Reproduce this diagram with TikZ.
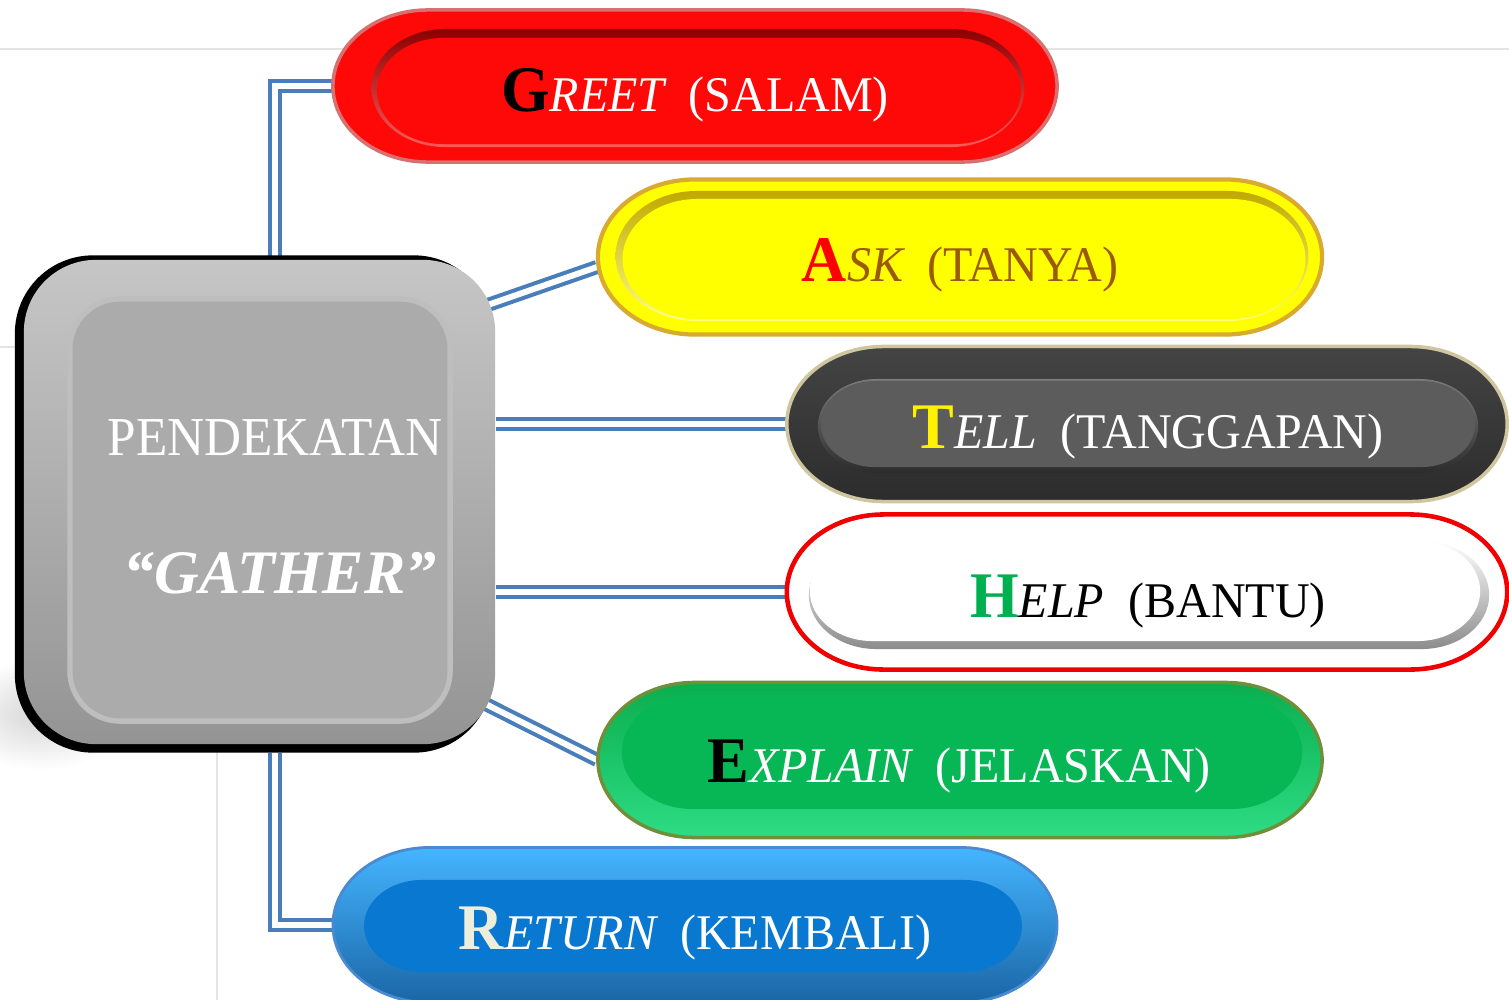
\documentclass[tikz,border=0pt]{standalone}
\usepackage{fontspec}
\setmainfont{Liberation Serif}
\usetikzlibrary{shapes.misc,calc}
\pgfdeclarelayer{background}
\pgfsetlayers{background,main}

\definecolor{linkblue}{HTML}{4A7EBB}
\definecolor{gridgray}{HTML}{E4E4E4}
% red pill
\definecolor{greetred}{HTML}{FF0808}
\definecolor{greetdark}{HTML}{8A0000}
\definecolor{greetlight}{HTML}{FF5A5A}
\definecolor{greetrim}{HTML}{D87070}
% yellow pill
\definecolor{askyel}{HTML}{FFFF00}
\definecolor{askdark}{HTML}{C0A800}
\definecolor{asklight}{HTML}{FFFF80}
\definecolor{askrim}{HTML}{D8AA30}
\definecolor{askbrown}{HTML}{9C5A08}
% dark grey pill
\definecolor{tellband}{HTML}{444444}
\definecolor{tellbandlow}{HTML}{2C2C2C}
\definecolor{tellface}{HTML}{5C5C5C}
\definecolor{telllight}{HTML}{7A7A7A}
\definecolor{tellrim}{HTML}{CFC6A0}
% white pill
\definecolor{helpred}{HTML}{F00000}
\definecolor{helpshadow}{HTML}{8C8C8C}
\definecolor{helpgreen}{HTML}{00B050}
% green pill
\definecolor{expgreen}{HTML}{07B755}
\definecolor{exptop}{HTML}{0AAE4E}
\definecolor{explow}{HTML}{2EDC84}
\definecolor{exprim}{HTML}{6F8F3A}
% blue pill
\definecolor{rettop}{HTML}{45B5FF}
\definecolor{retlow}{HTML}{1A66A6}
\definecolor{retface}{HTML}{0878D0}
\definecolor{retrim}{HTML}{4A8AD0}
\definecolor{retcream}{HTML}{EEEEDC}
% centre box
\definecolor{boxface}{HTML}{ABABAB}
\definecolor{boxtop}{HTML}{C6C6C6}
\definecolor{boxlow}{HTML}{949494}
\definecolor{boxedge}{HTML}{BEBEBE}

% label pieces: bold initial, italic capitals, upright gloss
\newcommand\initl[2]{{\fontsize{18.5}{20}\selectfont\bfseries\color{#1}#2}}
\newcommand\tailw[2]{{\fontsize{14.2}{16}\selectfont\itshape\color{#1}#2}}
\newcommand\gloss[2]{{\fontsize{14.2}{16}\selectfont\color{#1}#2}}
\newcommand\gapw{\hspace{0.25cm}}
\newcommand\narrow[1]{\scalebox{0.962}[1]{#1}}

\begin{document}
\begin{tikzpicture}[x=0.01cm,y=-0.01cm,
  pill/.style={rounded rectangle, inner sep=0pt, xscale=1.25, transform shape},
  box/.style={rectangle, inner sep=0pt},
  lbl/.style={anchor=base, inner sep=0pt},
  link/.style={draw=linkblue, line width=1.15pt, double=white, double distance=1.7pt},
  gridline/.style={draw=gridgray, line width=0.8pt}]
\useasboundingbox (0,0) rectangle (1509,1000);
\clip (0,0) rectangle (1509,1000);

% ---- centre box ----
\node[box, rounded corners=0.78cm, fill=black, minimum width=4.77cm, minimum height=4.97cm] (gather-rim) at (253.5,504) {};
\node[box, rounded corners=0.72cm, top color=boxtop, bottom color=boxlow, minimum width=4.71cm, minimum height=4.84cm] (gather-bevel) at (259.5,502) {};
\node[box, rounded corners=0.5cm, fill=boxface, draw=boxedge, line width=1.5pt, minimum width=3.80cm, minimum height=4.22cm] (gather-face) at (260,510) {};
\node[box, rounded corners=0.75cm, minimum width=4.80cm, minimum height=4.95cm] (gather) at (255,504.5) {};
\node[lbl, text=white] (gather-title) at (275,455) {\fontsize{15.6}{18}\selectfont\scalebox{0.935}[1]{PENDEKATAN}};
\node[lbl, text=white] (gather-name) at (280,593) {\fontsize{17.6}{20}\selectfont\bfseries\itshape “GATHER”};

% ---- GREET ----
\node[pill, fill=greetred, draw=greetrim, line width=1pt, minimum width=5.79cm, minimum height=1.52cm] (greet-outer) at (695,86) {};
\node[pill, top color=greetdark, bottom color=greetlight, minimum width=5.22cm, minimum height=1.18cm] (greet-edge) at (698,88) {};
\node[pill, fill=greetred, minimum width=5.15cm, minimum height=1.06cm] (greet-face) at (699,91) {};
\node[pill, minimum width=5.79cm, minimum height=1.52cm] (greet) at (695,86) {};
\node[lbl] (greet-text) at (695,111) {\narrow{\initl{black}{G}\tailw{white}{REET}\gapw\gloss{white}{(SALAM)}}};

% ---- ASK ----
\node[pill, fill=askyel, draw=askrim, line width=1.2pt, minimum width=5.79cm, minimum height=1.55cm] (ask-outer) at (960,257) {};
\node[pill, top color=askdark, bottom color=asklight, minimum width=5.54cm, minimum height=1.30cm] (ask-edge) at (962,256) {};
\node[pill, fill=askyel, minimum width=5.46cm, minimum height=1.20cm] (ask-face) at (964,259) {};
\node[pill, minimum width=5.79cm, minimum height=1.55cm] (ask) at (960,257) {};
\node[lbl] (ask-text) at (960,281) {\narrow{\initl{red}{A}\tailw{askbrown}{SK}\gapw\gloss{askbrown}{(TANYA)}}};

% ---- TELL ----
\node[pill, top color=tellband, bottom color=tellbandlow, draw=tellrim, line width=1pt, minimum width=5.76cm, minimum height=1.55cm] (tell-outer) at (1147,424) {};
\node[pill, top color=telllight, bottom color=tellbandlow, minimum width=5.28cm, minimum height=0.94cm] (tell-edge) at (1148,426) {};
\node[pill, fill=tellface, minimum width=5.23cm, minimum height=0.86cm] (tell-face) at (1148,424) {};
\node[pill, minimum width=5.76cm, minimum height=1.55cm] (tell) at (1147,424) {};
\node[lbl] (tell-text) at (1148,448) {\narrow{\initl{yellow}{T}\tailw{white}{ELL}\gapw\gloss{white}{(TANGGAPAN)}}};

% ---- HELP ----
\node[pill, fill=white, draw=helpred, line width=1.3pt, minimum width=5.76cm, minimum height=1.55cm] (help-outer) at (1147,592) {};
\node[pill, top color=white, bottom color=helpshadow, minimum width=5.44cm, minimum height=1.08cm] (help-edge) at (1149,595) {};
\node[pill, fill=white, minimum width=5.36cm, minimum height=1.00cm] (help-face) at (1145,591) {};
\node[pill, minimum width=5.76cm, minimum height=1.55cm] (help) at (1147,592) {};
\node[lbl] (help-text) at (1148,617) {\narrow{\initl{helpgreen}{H}\tailw{black}{ELP}\gapw\gloss{black}{(BANTU)}}};

% ---- EXPLAIN ----
\node[pill, top color=exptop, middle color=expgreen, bottom color=explow, draw=exprim, line width=1pt, minimum width=5.79cm, minimum height=1.55cm] (explain-outer) at (960,760) {};
\node[pill, fill=expgreen, minimum width=5.44cm, minimum height=1.14cm] (explain-face) at (962,752) {};
\node[pill, minimum width=5.79cm, minimum height=1.55cm] (explain) at (960,760) {};
\node[lbl] (explain-text) at (959,782) {\narrow{\initl{black}{E}\tailw{white}{XPLAIN}\gapw\gloss{white}{(JELASKAN)}}};

% ---- RETURN ----
\node[pill, top color=rettop, bottom color=retlow, draw=retrim, line width=0.8pt, minimum width=5.79cm, minimum height=1.55cm] (return-outer) at (695,925) {};
\node[pill, fill=retface, minimum width=5.26cm, minimum height=0.92cm] (return-face) at (693,926) {};
\node[pill, minimum width=5.79cm, minimum height=1.55cm] (return) at (695,925) {};
\node[lbl] (return-text) at (695,949) {\narrow{\initl{retcream}{R}\tailw{white}{ETURN}\gapw\gloss{white}{(KEMBALI)}}};

% ---- page, faint rules, box shadow and double-line connectors ----
\begin{pgfonlayer}{background}
  \fill[white] (0,0) rectangle (1509,1000);
  \draw[gridline] (0,49) -- (1509,49);
  \draw[gridline] (0,347) -- (40,347);
  \draw[gridline] (217,700) -- (217,1000);
  \shade[inner color=black!16, outer color=white] (40,715) ellipse [x radius=0.9cm, y radius=0.55cm];
  \coordinate (trunk) at (275,0);
  \draw[link] (gather.north -| trunk) |- (greet.west);
  \draw[link] ($(gather.40)+(-15,5)$) -- ($(ask.west)+(0,10)$);
  \draw[link] (gather.east |- tell.west) -- (tell.west);
  \draw[link] (gather.east |- help.west) -- (help.west);
  \draw[link] ($(gather.-40)+(-15,-5)$) -- (explain.west);
  \draw[link] (gather.south -| trunk) |- (return.west);
\end{pgfonlayer}
\end{tikzpicture}
\end{document}
